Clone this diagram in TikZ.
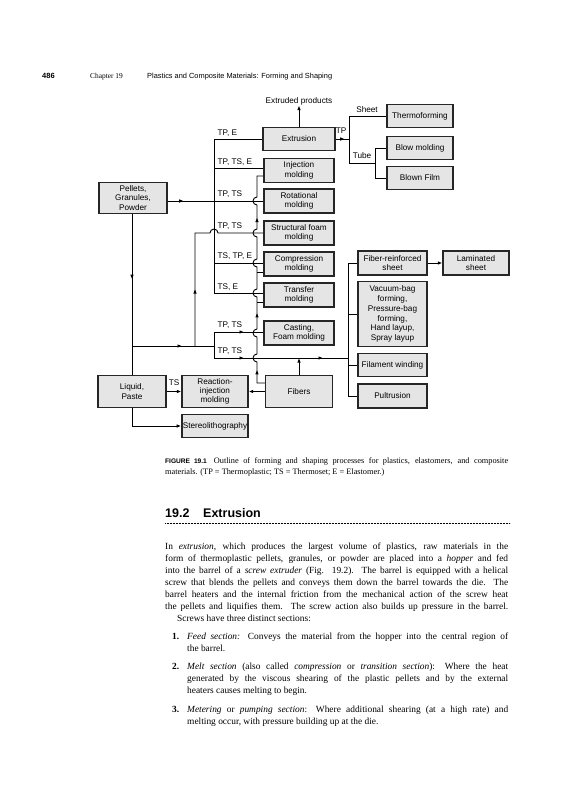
\documentclass[tikz,border=0pt]{standalone}
\usepackage{fontspec}
\setmainfont{Liberation Serif}
\setsansfont{Liberation Sans}
\usetikzlibrary{arrows.meta,decorations.markings}
\begin{document}
\begin{tikzpicture}[x=1pt,y=-1pt,
  box/.style={draw=black!85, line width=1.4pt, fill=black!10, inner sep=1pt, align=center,
    font=\sffamily\fontsize{8.2}{9.3}\selectfont},
  conn/.style={line width=0.9pt},
  tip/.style={-{Latex[length=4.5pt,width=3.6pt]}},
  lbl/.style={font=\sffamily\fontsize{8.2}{9}\selectfont, inner sep=0.5pt},
  marr/.style={postaction={decorate, decoration={markings, mark=at position #1 with {\arrow{Latex[length=4.5pt,width=3.6pt]}}}}},
  bodyt/.style={anchor=base west, inner sep=0pt, font=\fontsize{9.4}{12}\selectfont},
  capt/.style={anchor=base west, inner sep=0pt, font=\fontsize{8.3}{10}\selectfont},
  headt/.style={anchor=base west, inner sep=0pt}]
\useasboundingbox (0,0) rectangle (565,800);
\fill[white] (0,0) rectangle (565,800);

% ---------- header ----------
\node[headt, font=\sffamily\bfseries\fontsize{7.5}{9}\selectfont] (pg) at (42,78) {486};
\node[headt, font=\fontsize{7.4}{9}\selectfont] (ch) at (90,78) {Chapter 19};
\node[headt, font=\sffamily\fontsize{7.4}{9}\selectfont] (ct) at (147,78) {Plastics and Composite Materials: Forming and Shaping};

% ---------- boxes ----------
\node[box, minimum width=72pt, minimum height=23pt] (extr) at (299,139) {Extrusion};
\node[box, minimum width=66pt, minimum height=23pt] (thermo) at (420,116) {Thermoforming};
\node[box, minimum width=66pt, minimum height=23pt] (blow) at (420,148) {Blow molding};
\node[box, minimum width=66pt, minimum height=23pt] (film) at (420,178) {Blown Film};
\node[box, minimum width=68pt, minimum height=31pt] (pellets) at (133,198) {Pellets,\\Granules,\\Powder};
\node[box, minimum width=70pt, minimum height=24pt] (inj) at (299,170.5) {Injection\\molding};
\node[box, minimum width=70pt, minimum height=24pt] (rot) at (299,201) {Rotational\\molding};
\node[box, minimum width=70pt, minimum height=24pt] (sfoam) at (299,233) {Structural foam\\molding};
\node[box, minimum width=70pt, minimum height=24pt] (comp) at (299,264) {Compression\\molding};
\node[box, minimum width=70pt, minimum height=24pt] (trans) at (299,295) {Transfer\\molding};
\node[box, minimum width=70pt, minimum height=24pt] (cast) at (299,333) {Casting,\\Foam molding};
\node[box, minimum width=69pt, minimum height=24pt] (frs) at (392.5,263) {Fiber-reinforced\\sheet};
\node[box, minimum width=66pt, minimum height=24pt] (lam) at (476,263) {Laminated\\sheet};
\node[box, minimum width=69pt, minimum height=65pt, font=\sffamily\fontsize{8.2}{9.8}\selectfont] (vac) at (392.5,314) {Vacuum-bag\\forming,\\Pressure-bag\\forming,\\Hand layup,\\Spray layup};
\node[box, minimum width=69pt, minimum height=23pt] (fil) at (392.5,365) {Filament winding};
\node[box, minimum width=69pt, minimum height=24pt] (pul) at (392.5,396) {Pultrusion};
\node[box, minimum width=68pt, minimum height=32pt] (liq) at (132,391.5) {Liquid,\\Paste};
\node[box, minimum width=66pt, minimum height=32pt] (rim) at (215,391.5) {Reaction-\\injection\\molding};
\node[box, minimum width=67pt, minimum height=32pt] (fib) at (299,391.5) {Fibers};
\node[box, minimum width=66pt, minimum height=23pt] (stereo) at (215,426) {Stereolithography};

% ---------- extrusion outputs ----------
\node[lbl] (exprod) at (299,101) {Extruded products};
\draw[conn,tip] (extr.north) -- (exprod.south);
\coordinate (tpj) at (349,139);
\coordinate (shj) at (349,116);
\coordinate (tuj) at (349,163);
\coordinate (tuk) at (375,163);
\coordinate (bj) at (375,148);
\coordinate (fj) at (375,178);
\draw[conn, marr=9pt] (extr.east) -- (tpj);
\draw[conn] (shj) -- (tuj);
\draw[conn] (shj) -- (thermo.west);
\draw[conn] (tuj) -- (tuk);
\draw[conn] (bj) -- (fj);
\draw[conn] (bj) -- (blow.west);
\draw[conn] (fj) -- (film.west);
\node[lbl] (tplab) at (341,131) {TP};
\node[lbl] (shlab) at (367,110) {Sheet};
\node[lbl] (tulab) at (362,156) {Tube};

% ---------- main bus ----------
\coordinate (busT) at (214,139);
\coordinate (busB) at (214,293);
\draw[conn] (busT) -- (busB);
\draw[conn] (busT) -- (extr.west);
\draw[conn] (214,168) -- (inj.west |- 0,168);
\draw[conn] (214,201) -- (rot.west);
\draw[conn] (214,263) -- (comp.west |- 0,263);
\draw[conn] (busB) -- (trans.west |- 0,293);
\draw[conn, marr=16pt] (pellets.east |- 0,201) -- (214,201);

\node[lbl, anchor=west] (l1) at (217,133) {TP, E};
\node[lbl, anchor=west] (l2) at (217,162) {TP, TS, E};
\node[lbl, anchor=west] (l3) at (217,194) {TP, TS};
\node[lbl, anchor=west] (l4) at (217,226) {TP, TS};
\node[lbl, anchor=west] (l5) at (217,256) {TS, TP, E};
\node[lbl, anchor=west] (l6) at (217,287) {TS, E};
\node[lbl, anchor=west] (l7) at (217,325) {TP, TS};
\node[lbl, anchor=west] (l8) at (217,351) {TP, TS};
\node[lbl] (l9) at (174,383) {TS};

% ---------- lower feed ----------
\coordinate (jl) at (132,346);
\coordinate (jm) at (195,346);
\coordinate (jr) at (214,346);
\coordinate (lbT) at (214,332);
\coordinate (lbB) at (214,358);
\coordinate (rbus) at (348,358);
\draw[conn, marr=65pt] (pellets.south -| jl) -- (jl);
\draw[conn] (liq.north -| jl) -- (jl);
\draw[conn, marr=50pt] (jl) -- (jr);
\draw[conn, marr=57pt] (jm) -- (195,233) -- (210,233) arc[start angle=180, end angle=360, radius=4] -- (sfoam.west);
\draw[conn] (lbT) -- (lbB);
\draw[conn, marr=30pt] (lbT) -- (cast.west |- 0,332);
\draw[conn, marr=30pt, marr=109pt] (lbB) -- (rbus);

% ---------- fibre line ----------
\draw[conn, marr=21pt, marr=87pt, marr=196pt] (fib.west |- 0,383) -- (257,383) -- (257,362)
  arc[start angle=90, end angle=270, radius=4] -- (257,337)
  arc[start angle=90, end angle=270, radius=4] -- (257,297)
  arc[start angle=90, end angle=270, radius=4] -- (257,267)
  arc[start angle=90, end angle=270, radius=4] -- (257,237)
  arc[start angle=90, end angle=270, radius=4] -- (257,205)
  arc[start angle=90, end angle=270, radius=4] -- (257,176) -- (inj.west |- 0,176);
\draw[conn] (257,272) -- (comp.west |- 0,272);
\draw[conn] (257,302) -- (trans.west |- 0,302);
\draw[conn, tip] (fib.north) -- (fib.north |- rbus);
\draw[conn, tip] (fib.west) -- (rim.east);
\draw[conn, tip] (liq.east) -- (rim.west);
\draw[conn, tip] (liq.south -| jl) -- (132,426) -- (stereo.west);

% ---------- composites bus ----------
\coordinate (rb1) at (348,263);
\coordinate (rb4) at (348,396);
\draw[conn] (rb1) -- (rb4);
\draw[conn] (rb1) -- (frs.west);
\draw[conn] (348,314) -- (vac.west);
\draw[conn] (348,365) -- (fil.west);
\draw[conn] (rb4) -- (pul.west);
\draw[conn, tip] (frs.east) -- (lam.west);

% ---------- caption ----------
\node[capt] (cap1) at (165,463) {\makebox[343pt][s]{{\sffamily\bfseries\fontsize{6.6}{8}\selectfont FIGURE 19.1}\hspace{7pt}Outline of forming and shaping processes for plastics, elastomers, and composite}};
\node[capt] (cap2) at (165,474) {materials. (TP = Thermoplastic; TS = Thermoset; E = Elastomer.)};

% ---------- heading ----------
\node[headt, font=\sffamily\bfseries\fontsize{12.5}{14}\selectfont] (hnum) at (165,517) {19.2};
\node[headt, font=\sffamily\bfseries\fontsize{12.5}{14}\selectfont] (htxt) at (203,517) {Extrusion};
\draw[line width=0.5pt, dash pattern=on 0.6pt off 0.9pt] (165,523) -- (510,523);

% ---------- body ----------
\node[bodyt] (b1) at (165,549) {\makebox[343pt][s]{In \textit{extrusion}, which produces the largest volume of plastics, raw materials in the}};
\node[bodyt] (b2) at (165,561) {\makebox[343pt][s]{form of thermoplastic pellets, granules, or powder are placed into a \textit{hopper} and fed}};
\node[bodyt] (b3) at (165,573) {\makebox[343pt][s]{into the barrel of a \textit{screw extruder} (Fig. 19.2). The barrel is equipped with a helical}};
\node[bodyt] (b4) at (165,585) {\makebox[343pt][s]{screw that blends the pellets and conveys them down the barrel towards the die. The}};
\node[bodyt] (b5) at (165,597) {\makebox[343pt][s]{barrel heaters and the internal friction from the mechanical action of the screw heat}};
\node[bodyt] (b6) at (165,609) {\makebox[343pt][s]{the pellets and liquifies them. The screw action also builds up pressure in the barrel.}};
\node[bodyt] (b7) at (177,621) {Screws have three distinct sections:};
\node[bodyt] (n1) at (172,639) {\textbf{1.}};
\node[bodyt] (b8) at (187,639) {\makebox[321pt][s]{\textit{Feed section:} Conveys the material from the hopper into the central region of}};
\node[bodyt] (b9) at (187,651) {the barrel.};
\node[bodyt] (n2) at (172,669) {\textbf{2.}};
\node[bodyt] (b10) at (187,669) {\makebox[321pt][s]{\textit{Melt section} (also called \textit{compression} or \textit{transition section}): Where the heat}};
\node[bodyt] (b11) at (187,681) {\makebox[321pt][s]{generated by the viscous shearing of the plastic pellets and by the external}};
\node[bodyt] (b12) at (187,693) {heaters causes melting to begin.};
\node[bodyt] (n3) at (172,712) {\textbf{3.}};
\node[bodyt] (b13) at (187,712) {\makebox[321pt][s]{\textit{Metering} or \textit{pumping section}: Where additional shearing (at a high rate) and}};
\node[bodyt] (b14) at (187,724) {melting occur, with pressure building up at the die.};
\end{tikzpicture}
\end{document}
